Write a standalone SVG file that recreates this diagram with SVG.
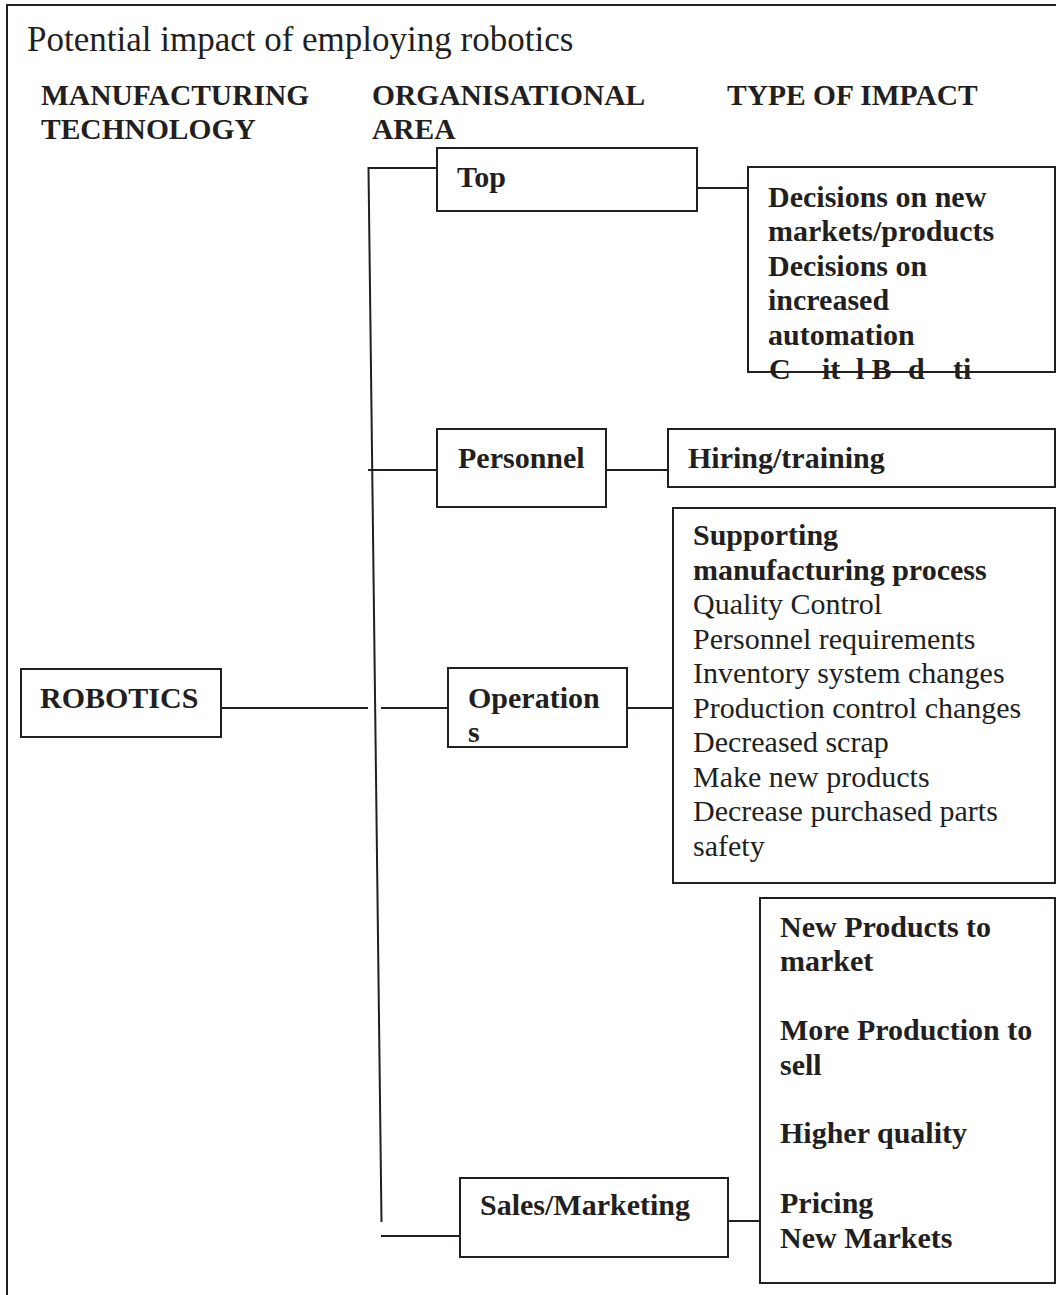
<svg xmlns="http://www.w3.org/2000/svg" width="1056" height="1295" viewBox="0 0 1056 1295">
<style>
text { font-family: "Liberation Serif", "Times New Roman", serif; fill: #231f20; }
.t { font-size: 35px; }
.h { font-size: 29.5px; font-weight: bold; }
.b { font-size: 30px; font-weight: bold; }
.r { font-size: 30px; }
.box { fill: none; stroke: #231f20; stroke-width: 2; }
.ln { fill: none; stroke: #231f20; stroke-width: 2; }
</style>
<rect x="0" y="0" width="1056" height="1295" fill="#ffffff"/>
<path id="frame" class="ln" d="M7,1295 V5 H1056"/>
<text class="t" x="27" y="51">Potential impact of employing robotics</text>
<g id="headers">
<text class="h" x="41" y="105">MANUFACTURING</text>
<text class="h" x="41" y="139">TECHNOLOGY</text>
<text class="h" x="372" y="105">ORGANISATIONAL</text>
<text class="h" x="372" y="139">AREA</text>
<text class="h" x="727" y="105">TYPE OF IMPACT</text>
</g>
<g id="connectors">
<path class="ln" d="M437,168 H368.5 L381.5,1222"/>
<path class="ln" d="M697,188 H748"/>
<path class="ln" d="M368,470 H437"/>
<path class="ln" d="M606,470 H668"/>
<path class="ln" d="M221,708 H368"/>
<path class="ln" d="M381,708 H448"/>
<path class="ln" d="M627,708 H673"/>
<path class="ln" d="M381,1236 H460"/>
<path class="ln" d="M728,1221 H760"/>
</g>
<g id="node-robotics">
<rect class="box" x="21" y="669" width="200" height="68"/>
<text class="b" x="40" y="708">ROBOTICS</text>
</g>
<g id="node-top">
<rect class="box" x="437" y="148" width="260" height="63"/>
<text class="b" x="457" y="187">Top</text>
</g>
<g id="node-personnel">
<rect class="box" x="437" y="429" width="169" height="78"/>
<text class="b" x="458" y="468">Personnel</text>
</g>
<g id="node-operations">
<rect class="box" x="448" y="668" width="179" height="79"/>
<text class="b" x="468" y="708">Operation</text>
<text class="b" x="468" y="742">s</text>
</g>
<g id="node-sales">
<rect class="box" x="460" y="1178" width="268" height="79"/>
<text class="b" x="480" y="1215">Sales/Marketing</text>
</g>
<g id="impact-top">
<text class="b" x="768" y="207">Decisions on new</text>
<text class="b" x="768" y="241">markets/products</text>
<text class="b" x="768" y="276">Decisions on</text>
<text class="b" x="768" y="310">increased</text>
<text class="b" x="768" y="345">automation</text>
<text class="b" y="379"><tspan x="769">C</tspan> <tspan x="822">it</tspan> <tspan x="856">l</tspan> <tspan x="871.5">B</tspan> <tspan x="908">d</tspan> <tspan x="953">ti</tspan></text>
<rect class="box" x="748" y="167" width="307" height="205"/>
</g>
<g id="impact-personnel">
<rect class="box" x="668" y="429" width="387" height="58"/>
<text class="b" x="688" y="468">Hiring/training</text>
</g>
<g id="impact-operations">
<rect class="box" x="673" y="508" width="382" height="375"/>
<text class="b" x="693" y="545">Supporting</text>
<text class="b" x="693" y="580">manufacturing process</text>
<text class="r" x="693" y="614">Quality Control</text>
<text class="r" x="693" y="649">Personnel requirements</text>
<text class="r" x="693" y="683">Inventory system changes</text>
<text class="r" x="693" y="718">Production control changes</text>
<text class="r" x="693" y="752">Decreased scrap</text>
<text class="r" x="693" y="787">Make new products</text>
<text class="r" x="693" y="821">Decrease purchased parts</text>
<text class="r" x="693" y="856">safety</text>
</g>
<g id="impact-sales">
<rect class="box" x="760" y="898" width="295" height="385"/>
<text class="b" x="780" y="937">New Products to</text>
<text class="b" x="780" y="971">market</text>
<text class="b" x="780" y="1040">More Production to</text>
<text class="b" x="780" y="1075">sell</text>
<text class="b" x="780" y="1143">Higher quality</text>
<text class="b" x="780" y="1213">Pricing</text>
<text class="b" x="780" y="1248">New Markets</text>
</g>
</svg>
